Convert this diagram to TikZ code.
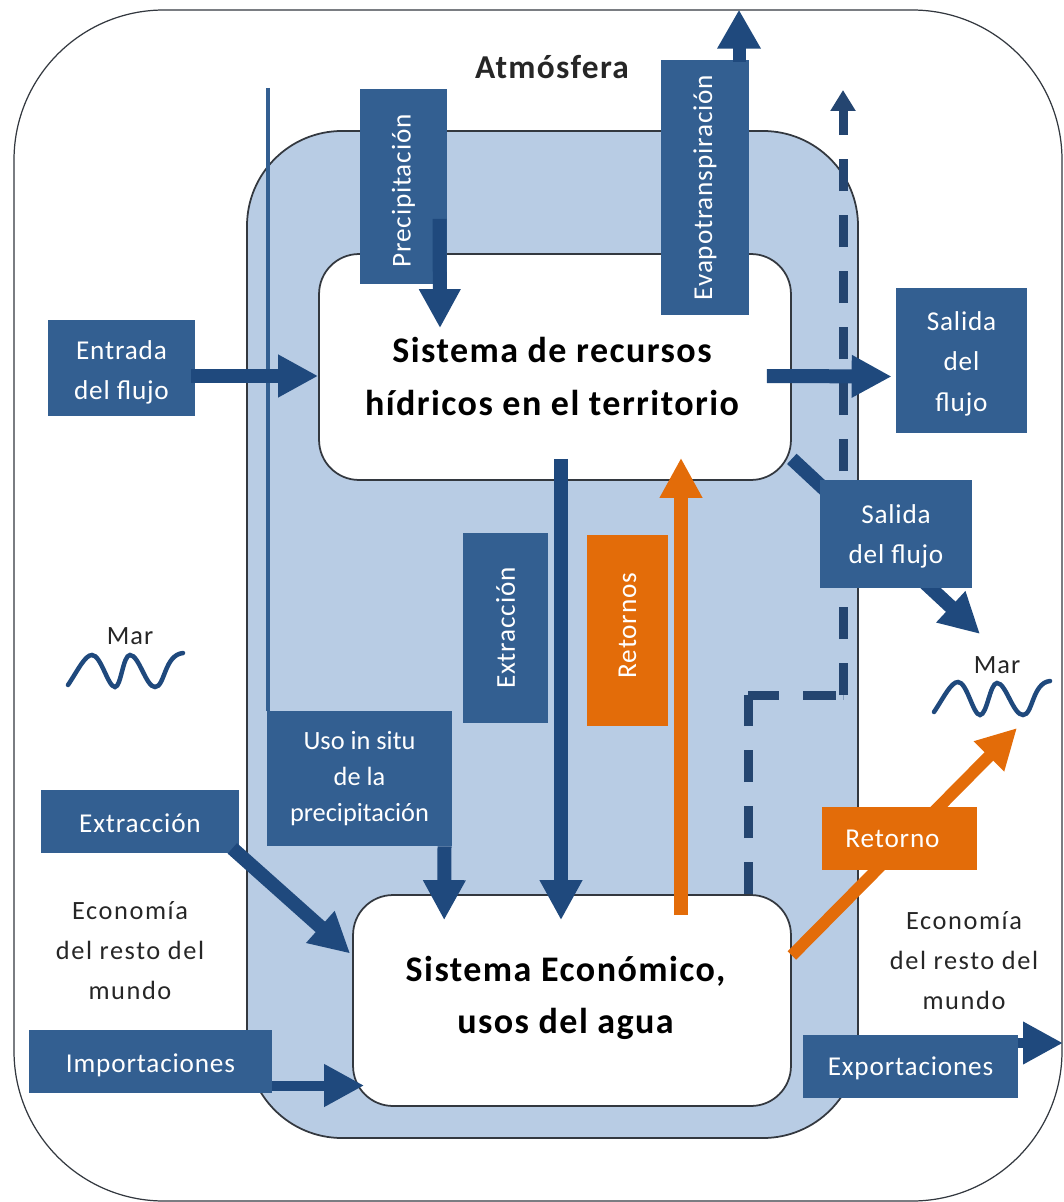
\documentclass[tikz,border=0pt]{standalone}
\usepackage{fontspec}
\setmainfont{Carlito}
\usepackage{xcolor}
\usetikzlibrary{arrows.meta,calc}
\definecolor{boxblue}{HTML}{335F91}
\definecolor{flowblue}{HTML}{1F497D}
\definecolor{dashblue}{HTML}{244570}
\definecolor{midblue}{HTML}{B8CCE4}
\definecolor{retorno}{HTML}{E36C09}
\definecolor{edgegrey}{HTML}{33383F}
\newcommand{\baja}[2]{\raisebox{0pt}[\dimexpr\height+#1\relax][\depth]{#2}}
\newcommand{\filas}[2]{\baja{#1}{\begin{tabular}{@{}c@{}}#2\end{tabular}}}
\tikzset{
  caja/.style={fill=boxblue,text=white,align=center,inner sep=0pt,font=\fontsize{15.5}{23}\selectfont\addfontfeature{LetterSpace=3}},
  cajaor/.style={caja,fill=retorno},
  sistema/.style={draw=edgegrey,line width=1pt,fill=white,rounded corners=.8cm,align=center,inner sep=0pt,font=\fontsize{20.5}{30}\selectfont\bfseries\addfontfeature{LetterSpace=4}},
  flujo/.style={draw=flowblue,line width=.28cm,-{Triangle[length=.8cm,width=.8cm]}},
  flujor/.style={draw=retorno,line width=.28cm,-{Triangle[length=.8cm,width=.8cm]}},
  traza/.style={draw=dashblue,line width=.18cm,dash pattern=on .64cm off .48cm},
  rotulo/.style={text=black!85,align=center,inner sep=0pt,font=\fontsize{15}{23}\selectfont\addfontfeature{LetterSpace=6}},
  ola/.style={draw=flowblue,line width=.09cm,line cap=round}
}
\begin{document}
\begin{tikzpicture}[x=.02cm,y=-.02cm]
      \useasboundingbox (0,0) rectangle (1063,1202);
      % territorio y medio
      \draw[edgegrey,line width=.7pt,rounded corners=3cm] (14,10) rectangle (1062,1201);
      \draw[edgegrey,line width=1pt,fill=midblue,rounded corners=1.9cm] (247,131) rectangle (858,1138);
      \node[sistema,minimum width=9.44cm,minimum height=4.52cm] (recursos) at (555,367) {\filas{13pt}{Sistema de recursos\\hídricos en el territorio}\hspace*{3.4pt}};
      \node[sistema,minimum width=8.76cm,minimum height=4.22cm] (economico) at (572,1000.5) {\filas{-4pt}{Sistema Económico,\\usos del agua}\hspace*{7.4pt}};
      % flechas por debajo de las cajas
      \node[caja,font=\fontsize{15}{20.5}\selectfont,minimum width=3.7cm,minimum height=2.7cm] (uso) at (359.5,778.5) {Uso in situ\\de la\\precipitación};
      \coordinate (lluviasitu) at (268,88);
      \draw[boxblue,line width=.08cm] (lluviasitu) -- (lluviasitu |- uso.north);
      % la traza discontinua va en tres tramos
      \coordinate (codoa) at (748,695);
      \coordinate (codob) at (843,695);
      \coordinate (puntad) at (843,90);
      \draw[traza] ($(economico.north)+(176,0)$) -- (codoa);
      \draw[traza,dash pattern=on .62cm off .48cm on .66cm off .14cm] (codoa) -- (codob);
      \draw[traza,-{Triangle[length=.42cm,width=.48cm]}] (codob) -- (puntad);
      \draw[flujo] ($(recursos.south)+(6,-22)$) -- ($(economico.north)+(-11,26)$);
      \draw[flujor] ($(economico.north)+(109,21)$) -- ($(recursos.south)+(126,-23)$);
      \node[caja,minimum width=1.76cm,minimum height=5.1cm] (evapo) at (705,187.5) {\rotatebox{90}{Evapotranspiración}};
      \draw[flowblue,line width=.26cm,-{Triangle[length=.78cm,width=.82cm]}] ($(evapo.north)+(34,2)$) -- ++(0,-52);
      \node[caja,minimum width=1.74cm,minimum height=3.92cm] (precip) at (403.5,186.5) {\baja{5pt}{\rotatebox{90}{Precipitación}}};
      \draw[flowblue,line width=.28cm,-{Triangle[length=.78cm,width=.78cm]}] ($(precip.south)+(36,-66)$) -- ($(recursos.north)+(-115,75)$);
      \node[caja,minimum width=2.96cm,minimum height=1.94cm] (entrada) at (121.5,368) {\filas{4pt}{Entrada\\del flujo}};
      \draw[flujo] ($(entrada.east)+(-5,8)$) -- ($(recursos.west)+(0,9)$);
      \node[caja,minimum width=2.62cm,minimum height=2.9cm] (salidaa) at (961.5,360.5) {\filas{2.5pt}{Salida\\del\\flujo}};
      \draw[flujo] ($(recursos.east)+(-25,9)$) -- ($(salidaa.west)+(-4,16)$);
      \coordinate (maresalida) at (980,634);
      \draw[flujo] ($(recursos.south east)+(0,-22)$) -- (maresalida);
      \node[caja,minimum width=3.04cm,minimum height=2.16cm] (salidab) at (896,534) {\filas{1.5pt}{Salida\\del flujo}};
      \node[caja,minimum width=1.7cm,minimum height=3.8cm] (extraccionv) at (505.5,628) {\rotatebox{90}{Extracción}};
      \node[cajaor,minimum width=1.62cm,minimum height=3.82cm] (retornos) at (627.5,630.5) {\baja{-5.6pt}{\rotatebox{90}{Retornos}}};
      \draw[flujo] ($(uso.south)+(85,0)$) -- ($(economico.north west)+(92,26)$);
      \coordinate (maretorno) at (1017,728);
      \draw[flujor,line width=.24cm] ($(economico.east)+(0,-45)$) -- (maretorno);
      \node[cajaor,minimum width=3.1cm,minimum height=1.26cm] (retorno) at (899.5,838.5) {Retorno\hspace*{8pt}};
      \node[caja,minimum width=3.96cm,minimum height=1.26cm] (extraccionh) at (140,821.5) {\filas{3pt}{Extracción}};
      \draw[flujo] ($(extraccionh.south east)+(-7,-5)$) -- ($(economico.west)+(-2,-47)$);
      \node[caja,minimum width=4.86cm,minimum height=1.26cm] (importa) at (150.5,1061.5) {\filas{3.5pt}{Importaciones}};
      \draw[flujo,line width=.2cm] ($(importa.east)+(0,24)$) -- ($(economico.west)+(12,85)$);
      \node[caja,minimum width=4.3cm,minimum height=1.26cm] (exporta) at (910.5,1066.5) {\filas{1.2pt}{Exportaciones}};
      \coordinate (fueraexp) at (1063,1043);
      \draw[flujo,line width=.2cm] (exporta.east |- fueraexp) -- (fueraexp);
      % rotulos
      \node[font=\fontsize{19}{20}\selectfont\bfseries\addfontfeature{LetterSpace=4},text=black!85,inner sep=0pt] (atm) at (552,67) {Atmósfera};
      \node[rotulo] (restoa) at (130,950.5) {Economía\\del resto del\\mundo};
      \node[rotulo] (restob) at (964,960.5) {Economía\\del resto del\\mundo};
      \node[rotulo,font=\fontsize{15}{15}\selectfont\addfontfeature{LetterSpace=4}] (mara) at (130,636) {Mar};
      \node[rotulo,font=\fontsize{15}{15}\selectfont\addfontfeature{LetterSpace=4}] (marb) at (997,665) {Mar};
      \draw[ola] (68,685) .. controls (78,670) and (85,655) .. (92,655) .. controls (101,655) and (108,687) .. (115,687)
        .. controls (121,687) and (123,655) .. (130,655) .. controls (139,655) and (146,687) .. (155,687) .. controls (165,687) and (164,655) .. (183,653);
      \draw[ola] (934,712) .. controls (944,697) and (951,682) .. (958,682) .. controls (967,682) and (973,715) .. (980,715)
        .. controls (987,715) and (990,683) .. (997,683) .. controls (1006,683) and (1013,715) .. (1023,715) .. controls (1033,715) and (1032,683) .. (1050,681);
\end{tikzpicture}
\end{document}
